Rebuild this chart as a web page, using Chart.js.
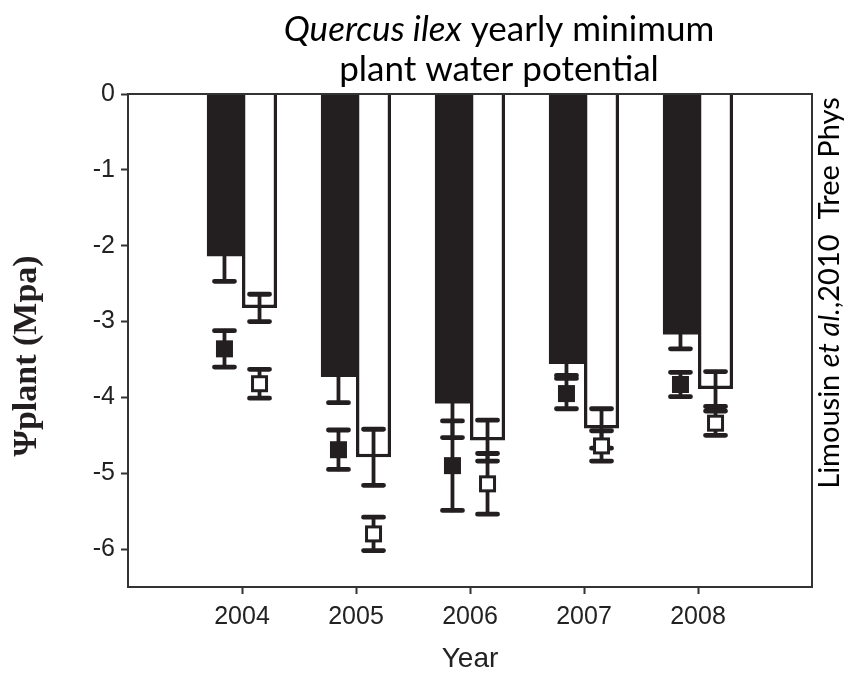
<!DOCTYPE html>
<html>
<head>
<meta charset="utf-8">
<script src="https://cdn.jsdelivr.net/npm/chart.js@4"></script>
<style>
  html, body { margin: 0; padding: 0; background: #fff; }
  #wrap { width: 847px; height: 677px; }
</style>
</head>
<body>
<div id="wrap"><canvas id="psiChart"></canvas></div>
<script>
// years on the x axis, y ticks in MPa
const years = ['2004', '2005', '2006', '2007', '2008'];
const yTicks = [0, -1, -2, -3, -4, -5, -6];

// bars (black / white) with their error
const blackBar = [-2.14, -3.73, -4.08, -3.56, -3.17];
const blackBarErr = [0.33, 0.34, 0.45, 0.15, 0.19];
const whiteBar = [-2.82, -4.79, -4.57, -4.41, -3.89];
const whiteBarErr = [0.18, 0.37, 0.27, 0.26, 0.23];

// square markers (black / white) with their error
const blackSq = [-3.36, -4.69, -4.90, -3.95, -3.83];
const blackSqErr = [0.24, 0.26, 0.59, 0.20, 0.16];
const whiteSq = [-3.82, -5.80, -5.14, -4.64, -4.34];
const whiteSqErr = [0.19, 0.22, 0.40, 0.20, 0.16];

const INK = '#231f20';
const AXIS = '#333';

// one empty slot each side so the years sit one step in from the frame
const labels = ['', ...years, ''];
const pad = arr => [null, ...arr, null];

function drawParts(ctx, parts, cx, cy) {
    let total = 0;
    parts.forEach(p => { ctx.font = p.font; p.w = ctx.measureText(p.t).width; total += p.w; });
    let x = cx - total / 2;
    ctx.textAlign = 'left';
    ctx.textBaseline = 'middle';
    parts.forEach(p => { ctx.font = p.font; ctx.fillText(p.t, x, cy); x += p.w; });
}

const errorMarks = {
    id: 'errorMarks',
    afterDatasetsDraw(chart) {
        const { ctx, scales: { y } } = chart;
        const series = [
            { idx: 0, bar: blackBar, barErr: blackBarErr, sq: blackSq, sqErr: blackSqErr, fill: INK },
            { idx: 1, bar: whiteBar, barErr: whiteBarErr, sq: whiteSq, sqErr: whiteSqErr, fill: '#fff' }
        ];

        const errBar = (x, v, e) => {
            const y1 = y.getPixelForValue(v + e);
            const y2 = y.getPixelForValue(v - e);
            ctx.strokeStyle = INK;
            ctx.lineCap = 'round';
            ctx.lineWidth = 3.8;
            ctx.beginPath();
            ctx.moveTo(x, y1);
            ctx.lineTo(x, y2);
            ctx.stroke();
            ctx.lineWidth = 4.8;
            ctx.beginPath();
            ctx.moveTo(x - 10, y1); ctx.lineTo(x + 10, y1);
            ctx.moveTo(x - 10, y2); ctx.lineTo(x + 10, y2);
            ctx.stroke();
        };

        ctx.save();
        series.forEach(s => {
            const meta = chart.getDatasetMeta(s.idx);
            years.forEach((_, j) => {
                const x = meta.data[j + 1].x;
                errBar(x, s.bar[j], s.barErr[j]);
                errBar(x, s.sq[j], s.sqErr[j]);
            });
        });
        series.forEach(s => {
            const meta = chart.getDatasetMeta(s.idx);
            years.forEach((_, j) => {
                const x = meta.data[j + 1].x;
                const py = y.getPixelForValue(s.sq[j]);
                ctx.fillStyle = INK;
                ctx.fillRect(x - 8.5, py - 8.5, 17, 17);
                if (s.fill !== INK) {
                    ctx.fillStyle = s.fill;
                    ctx.fillRect(x - 5.5, py - 5.5, 11, 11);
                }
            });
        });
        ctx.restore();
    },
    afterDraw(chart) {
        const { ctx, chartArea: a } = chart;
        ctx.save();
        // frame round the plot
        ctx.strokeStyle = AXIS;
        ctx.lineWidth = 2;
        ctx.strokeRect(a.left, a.top, a.right - a.left, a.bottom - a.top);

        ctx.fillStyle = '#000';
        drawParts(ctx, [
            { t: 'Quercus ilex', font: 'italic 35px Lato' },
            { t: ' yearly minimum', font: '35px Lato' }
        ], 499, 30);
        drawParts(ctx, [{ t: 'plant water potential', font: '35px Lato' }], 499, 70);

        // axis titles
        ctx.fillStyle = '#222';
        drawParts(ctx, [{ t: 'Year', font: '28px "Liberation Sans"' }], 470, 659);

        ctx.save();
        ctx.translate(27, 356);
        ctx.rotate(-Math.PI / 2);
        ctx.fillStyle = INK;
        drawParts(ctx, [{ t: 'Ψplant (Mpa)', font: 'bold 34px "Liberation Serif"' }], 0, 0);
        ctx.restore();

        // source note
        ctx.save();
        ctx.translate(830, 293);
        ctx.rotate(-Math.PI / 2);
        ctx.fillStyle = '#000';
        drawParts(ctx, [
            { t: 'Limousin ', font: '29px Lato' },
            { t: 'et al.', font: 'italic 29px Lato' },
            { t: ',2010  Tree Phys', font: '29px Lato' }
        ], 0, 0);
        ctx.restore();
        ctx.restore();
    }
};

const ctx = document.getElementById('psiChart').getContext('2d');
new Chart(ctx, {
    type: 'bar',
    data: {
        labels: labels,
        datasets: [
            {
                data: pad(blackBar),
                backgroundColor: INK,
                borderWidth: 0
            },
            {
                data: pad(whiteBar),
                backgroundColor: '#fff',
                borderColor: INK,
                borderWidth: 3.5
            }
        ]
    },
    options: {
        responsive: true,
        maintainAspectRatio: false,
        animation: false,
        layout: { padding: { top: 94, right: 35, left: 0, bottom: 0 } },
        datasets: { bar: { categoryPercentage: 0.615, barPercentage: 1 } },
        plugins: { legend: { display: false }, tooltip: { enabled: false } },
        scales: {
            x: {
                offset: false,
                border: { display: false },
                grid: {
                    offset: false,
                    drawOnChartArea: false,
                    tickLength: 7,
                    tickWidth: 2,
                    tickColor: c => (c.index === 0 || c.index === labels.length - 1) ? 'rgba(0,0,0,0)' : AXIS
                },
                ticks: {
                    autoSkip: false,
                    maxRotation: 0,
                    padding: 8,
                    color: '#222',
                    font: { family: '"Liberation Sans"', size: 25 }
                },
                afterFit: s => { s.height = 90; }
            },
            y: {
                min: -6.5,
                max: 0,
                border: { display: false },
                grid: { drawOnChartArea: false, tickLength: 7, tickWidth: 2, tickColor: AXIS },
                afterBuildTicks: s => { s.ticks = yTicks.map(v => ({ value: v })); },
                ticks: {
                    padding: 6,
                    color: '#222',
                    font: { family: '"Liberation Sans"', size: 25 }
                },
                afterFit: s => { s.width = 128; }
            }
        }
    },
    plugins: [errorMarks]
});
</script>
</body>
</html>
